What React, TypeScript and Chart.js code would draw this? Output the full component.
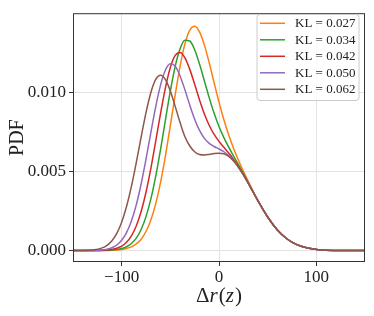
import { useEffect, useRef } from "react";
import { Chart, registerables } from "chart.js";

Chart.register(...registerables);

const xValues = [-150, -140, -130, -120, -115, -110, -105, -100, -95, -90, -85, -80, -75, -70, -65, -60, -55, -50, -45, -40, -35, -30, -25, -20, -15, -10, -5, 0, 5, 10, 15, 20, 25, 30, 35, 40, 50, 60, 70, 80, 90, 100, 110, 120, 130, 140, 150];

const kl027 = [0, 0, 0.000002, 0.000007, 0.000013, 0.000023, 0.000041, 0.000073, 0.000132, 0.000237, 0.000419, 0.000721, 0.001205, 0.001932, 0.002962, 0.004323, 0.005996, 0.007889, 0.009836, 0.011627, 0.013043, 0.013912, 0.014154, 0.013797, 0.012965, 0.011836, 0.010589, 0.009368, 0.00826, 0.00729, 0.006448, 0.005699, 0.005014, 0.004368, 0.003751, 0.003165, 0.002121, 0.001302, 0.00073, 0.000373, 0.000174, 0.000074, 0.000019, 0.000007, 0.000002, 0.000001, 0];
const kl034 = [0, 0, 0.000002, 0.000009, 0.000017, 0.000033, 0.000066, 0.000128, 0.000243, 0.000447, 0.000791, 0.001334, 0.002142, 0.003263, 0.004702, 0.006408, 0.008259, 0.010071, 0.011627, 0.012735, 0.013275, 0.013226, 0.012673, 0.011771, 0.010706, 0.009635, 0.008663, 0.00783, 0.007131, 0.006525, 0.005966, 0.005418, 0.004861, 0.00429, 0.003714, 0.003148, 0.002118, 0.001302, 0.00073, 0.000373, 0.000174, 0.000074, 0.000019, 0.000007, 0.000002, 0.000001, 0];
const kl042 = [0, 0.000001, 0.000003, 0.000016, 0.000034, 0.000071, 0.000144, 0.000281, 0.000524, 0.000929, 0.001556, 0.002463, 0.00368, 0.005189, 0.006903, 0.008667, 0.010285, 0.011552, 0.012313, 0.012503, 0.012167, 0.011435, 0.010491, 0.009508, 0.008621, 0.007895, 0.007332, 0.006893, 0.006518, 0.006153, 0.005756, 0.005307, 0.004806, 0.004265, 0.003703, 0.003144, 0.002118, 0.001302, 0.00073, 0.000373, 0.000174, 0.000074, 0.000019, 0.000007, 0.000002, 0.000001, 0];
const kl050 = [0, 0.000001, 0.000008, 0.000041, 0.000088, 0.000181, 0.000354, 0.000653, 0.001137, 0.001866, 0.002887, 0.004203, 0.005765, 0.007452, 0.009085, 0.010458, 0.011393, 0.011784, 0.011627, 0.011022, 0.010141, 0.009176, 0.00829, 0.007582, 0.007083, 0.006766, 0.006567, 0.006411, 0.006237, 0.006, 0.005678, 0.00527, 0.004789, 0.004258, 0.003701, 0.003143, 0.002118, 0.001302, 0.00073, 0.000373, 0.000174, 0.000074, 0.000019, 0.000007, 0.000002, 0.000001, 0];
const kl062 = [0.000001, 0.000006, 0.000036, 0.000169, 0.000333, 0.000621, 0.001088, 0.001792, 0.002779, 0.00405, 0.005553, 0.007165, 0.008709, 0.009979, 0.010798, 0.011065, 0.010786, 0.010071, 0.0091, 0.008078, 0.007179, 0.0066, 0.00624, 0.00606, 0.00603, 0.00607, 0.00613, 0.00615, 0.006109, 0.005937, 0.005649, 0.005258, 0.004785, 0.004256, 0.0037, 0.003143, 0.002118, 0.001302, 0.00073, 0.000373, 0.000174, 0.000074, 0.000019, 0.000007, 0.000002, 0.000001, 0];

const seriesLabels = ["KL = 0.027", "KL = 0.034", "KL = 0.042", "KL = 0.050", "KL = 0.062"];
const seriesColors = ["#ff7f0e", "#2ca02c", "#d62728", "#9467bd", "#8c564b"];
const xTicks = [-100, 0, 100];
const yTicks = [0, 0.005, 0.01];
const yTitle = "PDF";

const SERIF = '"Liberation Serif", "Times New Roman", serif';
const TEXT = "#222222";

export default function App() {
  const ref = useRef<HTMLCanvasElement | null>(null);

  useEffect(() => {
    document.body.style.margin = "0";
    const canvas = ref.current;
    if (!canvas) return;
    const series = [kl027, kl034, kl042, kl050, kl062];

    const decor = {
      id: "decor",
      afterDraw(chart: any) {
        const { ctx, chartArea } = chart;
        const { left, right, top, bottom } = chartArea;
        ctx.save();
        // frame
        ctx.strokeStyle = "#333333";
        ctx.lineWidth = 1;
        ctx.strokeRect(left + 0.5, top + 0.5, right - left - 1, bottom - top - 1);

        // y title
        ctx.fillStyle = TEXT;
        ctx.font = `20px ${SERIF}`;
        ctx.textAlign = "center";
        ctx.textBaseline = "alphabetic";
        ctx.save();
        ctx.translate(23, (top + bottom) / 2);
        ctx.rotate(-Math.PI / 2);
        ctx.fillText(yTitle, 0, 0);
        ctx.restore();

        // x title with mixed styles
        const pieces: [string, string][] = [["Δ", "normal"], ["r", "italic"], ["(", "normal"], ["z", "italic"], [")", "normal"]];
        const size = 21;
        let total = 0;
        const widths = pieces.map(([t, st]) => {
          ctx.font = `${st} ${size}px ${SERIF}`;
          const w = ctx.measureText(t).width + (st === "italic" ? 1 : 0);
          total += w;
          return w;
        });
        let xPos = (left + right) / 2 - total / 2;
        ctx.textAlign = "left";
        pieces.forEach(([t, st], i) => {
          ctx.font = `${st} ${size}px ${SERIF}`;
          ctx.fillText(t, xPos, 302);
          xPos += widths[i];
        });

        // legend
        const bx = 257, by = 14.5, bw = 102, bh = 86;
        ctx.beginPath();
        if ((ctx as any).roundRect) (ctx as any).roundRect(bx, by, bw, bh, 3);
        else ctx.rect(bx, by, bw, bh);
        ctx.fillStyle = "rgba(255,255,255,0.8)";
        ctx.fill();
        ctx.strokeStyle = "#cccccc";
        ctx.lineWidth = 1;
        ctx.stroke();
        chart.data.datasets.forEach((ds: any, i: number) => {
          const y = 23.3 + i * 16.5;
          ctx.beginPath();
          ctx.strokeStyle = ds.borderColor;
          ctx.lineWidth = 1.5;
          ctx.moveTo(260, y);
          ctx.lineTo(285, y);
          ctx.stroke();
          ctx.fillStyle = TEXT;
          ctx.font = `13px ${SERIF}`;
          ctx.textAlign = "left";
          ctx.textBaseline = "middle";
          ctx.fillText(ds.label, 295, y + 0.5);
        });
        ctx.restore();
      },
    };

    const chart = new Chart(canvas, {
      type: "line",
      data: {
        datasets: series.map((s, i) => ({
          label: seriesLabels[i],
          data: xValues.map((x, j) => ({ x, y: s[j] })),
          borderColor: seriesColors[i],
          backgroundColor: seriesColors[i],
          borderWidth: 1.5,
          pointRadius: 0,
          fill: false,
          cubicInterpolationMode: "monotone" as const,
          order: series.length - i,
        })),
      },
      options: {
        animation: false,
        responsive: false,
        devicePixelRatio: 1,
        layout: { padding: { top: 8, right: 9, left: 0, bottom: 0 } },
        plugins: { legend: { display: false }, tooltip: { enabled: false } },
        scales: {
          x: {
            type: "linear",
            min: -150,
            max: 150,
            afterBuildTicks: (s: any) => {
              s.ticks = xTicks.map((v) => ({ value: v }));
            },
            afterFit: (s: any) => {
              s.height = 54;
            },
            ticks: {
              font: { family: SERIF, size: 17 },
              color: TEXT,
              padding: 1,
              maxRotation: 0,
              autoSkip: false,
              callback: (v: any) => (Number(v) < 0 ? "\u2212" + Math.abs(Number(v)) : String(v)),
            },
            grid: { color: "#e3e3e3", tickColor: "#333333", tickLength: 4, lineWidth: 1 },
            border: { display: false },
          },
          y: {
            type: "linear",
            min: -0.00072,
            max: 0.01498,
            afterBuildTicks: (s: any) => {
              s.ticks = yTicks.map((v) => ({ value: v }));
            },
            afterFit: (s: any) => {
              s.width = 73;
            },
            ticks: {
              font: { family: SERIF, size: 17 },
              color: TEXT,
              padding: 3,
              autoSkip: false,
              callback: (v: any) => Number(v).toFixed(3),
            },
            grid: { color: "#e3e3e3", tickColor: "#333333", tickLength: 4, lineWidth: 1 },
            border: { display: false },
          },
        },
      },
      plugins: [decor],
    } as any);

    return () => chart.destroy();
  }, []);

  return (
    <div style={{ position: "absolute", left: 0, top: 0, width: 374, height: 316 }}>
      <canvas ref={ref} width={374} height={316} style={{ display: "block", width: 374, height: 316 }} />
    </div>
  );
}
